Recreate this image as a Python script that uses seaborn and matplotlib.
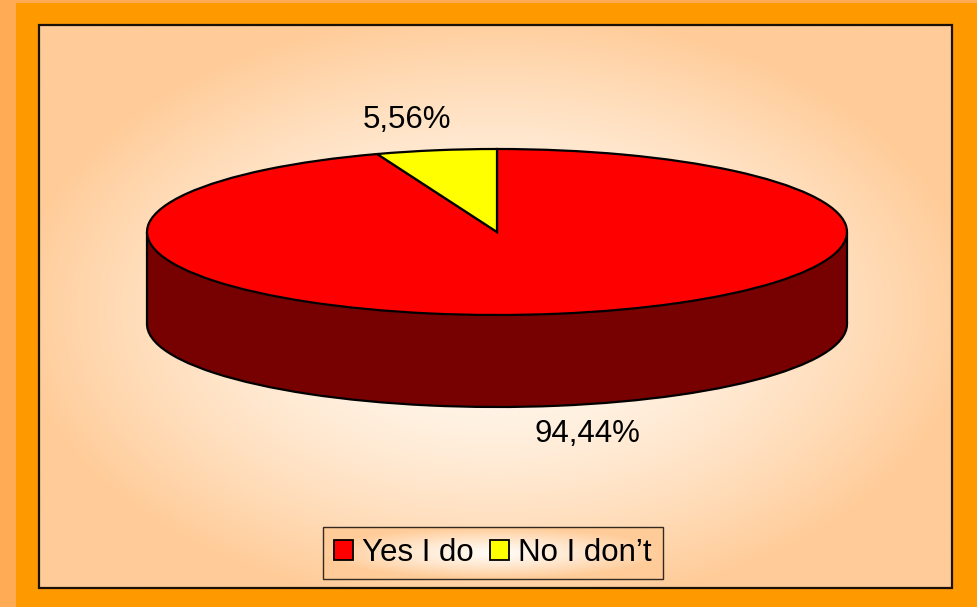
import numpy as np
import matplotlib
matplotlib.use("Agg")
import matplotlib.pyplot as plt
from matplotlib.patches import Patch, Rectangle
import seaborn as sns

# dados
categorias = ["Yes I do", "No I don\u2019t"]
valores = [94.44, 5.56]
rotulos = ["94,44%", "5,56%"]
cores_topo = ["#FF0000", "#FFFF00"]
cores_lado = ["#770000", "#777700"]

sns.set_theme(style="white")
plt.rcParams["font.family"] = ["Liberation Sans", "DejaVu Sans"]
plt.rcParams["text.color"] = "black"

W, H = 978, 607
fig = plt.figure(figsize=(W / 100, H / 100), dpi=100, facecolor="#FF9900")

# ------------------------------------------------------------
# fundo (coordenadas em pixels)
# ------------------------------------------------------------
bg = fig.add_axes([0, 0, 1, 1])
bg.set_xlim(0, W)
bg.set_ylim(H, 0)
bg.axis("off")

bg.add_patch(Rectangle((0, 0), 16, H, color="#FFAA55", lw=0, zorder=0))
bg.add_patch(Rectangle((0, 0), W, 2.5, color="#FFAA55", lw=0, zorder=0))

x0, x1, y0, y1 = 39, 952, 25, 588
gx, gy = np.meshgrid(np.linspace(x0, x1, 400), np.linspace(y0, y1, 260))
r = np.sqrt(((gx - 495) / 480) ** 2 + ((gy - 310) / 300) ** 2)
t = np.clip(r, 0, 1)[..., None] ** 1.5
branco = np.array([1.0, 0.99, 0.97])
pessego = np.array([1.0, 0.80, 0.60])
img = branco * (1 - t) + pessego * t
bg.imshow(img, extent=(x0, x1, y1, y0), aspect="auto", zorder=1, interpolation="bilinear")
bg.add_patch(Rectangle((x0, y0), x1 - x0, y1 - y0, fill=False, ec="#1a1208", lw=1.6, zorder=2))

# ------------------------------------------------------------
# pizza 3D (elipse)
# ------------------------------------------------------------
cx, cy, a, b = 497, 232, 350, 83
d = 92 / b
ax = fig.add_axes([0, 0, 1, 1])
ax.patch.set_alpha(0)

inicio = 90 + 360 * valores[1] / sum(valores)

ax.pie(valores, colors=cores_lado, startangle=inicio, center=(0, -d), radius=1,
       wedgeprops={"edgecolor": "black", "linewidth": 1.6, "zorder": 2})
ax.fill_between([-1, 1], -d, 0, color=cores_lado[0], lw=0, zorder=3)
ax.fill_between([-0.2, 0.2], -d - 0.2, -d, color=cores_lado[0], lw=0, zorder=3)
ax.plot([-1, -1], [-d, 0], color="black", lw=1.6, zorder=3.5)
ax.plot([1, 1], [-d, 0], color="black", lw=1.6, zorder=3.5)
ax.pie(valores, colors=cores_topo, startangle=inicio, center=(0, 0), radius=1,
       wedgeprops={"edgecolor": "black", "linewidth": 1.6, "zorder": 4})

ax.set_aspect("auto")
ax.set_xlim((0 - cx) / a, (W - cx) / a)
ax.set_ylim((cy - H) / b, cy / b)
ax.axis("off")

# rótulos de porcentagem
angulos = np.cumsum([0] + valores) / sum(valores) * 360 + inicio
for i, rot in enumerate(rotulos):
    meio = np.deg2rad((angulos[i] + angulos[i + 1]) / 2)
    lx = 1.48 * np.cos(meio)
    ly = 1.37 * np.sin(meio)
    if ly < 0:
        ly -= d - 0.02
    ax.text(lx, ly, rot, ha="center", va="center", fontsize=22.5, color="black", zorder=6)

# ------------------------------------------------------------
# legenda
# ------------------------------------------------------------
handles = [Patch(facecolor=c, edgecolor="black", linewidth=1.3) for c in cores_topo]
leg = bg.legend(handles, categorias, loc="center", bbox_to_anchor=(493, 553),
                bbox_transform=bg.transData, ncol=2, fontsize=22.5, frameon=True,
                fancybox=False, edgecolor="black", handlelength=0.6, handleheight=0.6,
                handletextpad=0.3, columnspacing=0.5, borderpad=0.35, borderaxespad=0,
                labelcolor="black")
leg.get_frame().set_facecolor("none")
leg.get_frame().set_linewidth(1.0)
leg.set_zorder(6)

fig.canvas.draw()
bb = leg.get_window_extent().transformed(bg.transData.inverted())
lx0, lx1 = sorted([bb.x0, bb.x1])
ly0, ly1 = sorted([bb.y0, bb.y1])
gx, gy = np.meshgrid(np.linspace(lx0, lx1, 200), np.linspace(ly0, ly1, 40))
r = np.sqrt(((gx - (lx0 + lx1) / 2) / ((lx1 - lx0) / 2)) ** 2 + ((gy - (ly0 + ly1) / 2) / ((ly1 - ly0) / 2)) ** 2)
t = np.clip(r, 0, 1)[..., None] ** 1.2
bg.imshow(branco * (1 - t) + pessego * t, extent=(lx0, lx1, ly1, ly0), aspect="auto",
          zorder=5, interpolation="bilinear")
bg.set_xlim(0, W)
bg.set_ylim(H, 0)

fig.savefig("out.png", dpi=100, facecolor=fig.get_facecolor())
